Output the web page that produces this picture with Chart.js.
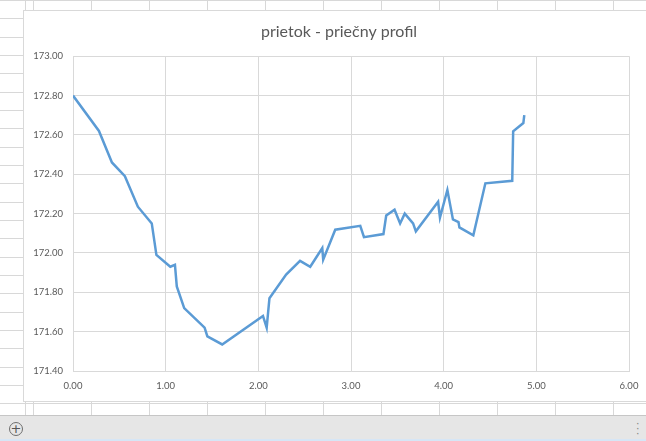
<!DOCTYPE html>
<html>
<head>
<meta charset="utf-8">
<script src="https://cdn.jsdelivr.net/npm/chart.js@4"></script>
<style>
  html, body { margin: 0; padding: 0; }
  body {
    width: 646px; height: 441px; overflow: hidden; position: relative;
    background-color: #fff;
    background-image:
      repeating-linear-gradient(to right, #d8d8d8 0 1px, transparent 1px 58px),
      repeating-linear-gradient(to bottom, #d8d8d8 0 1px, transparent 1px 18.33px);
    background-position: 33px 0, 0 0;
    font-family: Lato, "Open Sans", sans-serif;
  }
  #box {
    position: absolute; left: 23px; top: 10px; width: 632px; height: 392px;
    background: #fff; border: 1px solid #d9d9d9; box-sizing: border-box;
  }
  #bar {
    position: absolute; left: 0; top: 415px; width: 646px; height: 24px;
    background: #e6e6e6; border-top: 1px solid #c6c6c6; box-sizing: border-box;
  }
  #bar-edge { position: absolute; left: 0; top: 439px; width: 646px; height: 2px; background: #d6e6f6; }
  #plus {
    position: absolute; left: 9px; top: 422px; width: 14px; height: 14px;
    border: 1.3px solid #6e6e6e; border-radius: 50%; box-sizing: border-box;
    color: #555; font: 13px/11px "DejaVu Sans", sans-serif; text-align: center;
  }
  #dots { position: absolute; left: 636px; top: 421px; color: #888; font: 11px/5px "DejaVu Sans", sans-serif; }
</style>
</head>
<body>
<div id="box"><canvas id="profil"></canvas></div>
<div id="bar"></div>
<div id="bar-edge"></div>
<div id="plus">+</div>
<div id="dots">·<br>·<br>·</div>
<script>
// vzdialenosť [m] a výška hladiny/dna [m n.m.]
const vzdialenost = [0, 0.28, 0.42, 0.56, 0.70, 0.85, 0.90, 1.05, 1.10, 1.12, 1.20, 1.42, 1.45, 1.61,
  2.05, 2.09, 2.12, 2.30, 2.45, 2.56, 2.69, 2.70, 2.83, 3.10, 3.14, 3.35, 3.38, 3.47, 3.53, 3.58,
  3.67, 3.70, 3.94, 3.96, 4.04, 4.10, 4.16, 4.17, 4.32, 4.45, 4.74, 4.75, 4.86, 4.87];
const vyska = [172.80, 172.62, 172.46, 172.39, 172.235, 172.15, 171.99, 171.93, 171.94, 171.83, 171.72, 171.62, 171.576, 171.535,
  171.68, 171.62, 171.77, 171.89, 171.96, 171.93, 172.025, 171.966, 172.118, 172.138, 172.08, 172.096, 172.19, 172.22, 172.15, 172.20,
  172.15, 172.11, 172.26, 172.18, 172.32, 172.17, 172.157, 172.13, 172.09, 172.354, 172.367, 172.618, 172.66, 172.70];
const xTicks = [0, 1, 2, 3, 4, 5, 6];
const yTicks = [171.4, 171.6, 171.8, 172.0, 172.2, 172.4, 172.6, 172.8, 173.0];

const grid = { color: '#d9d9d9', lineWidth: 1, drawTicks: false };
const tickFont = { family: 'Lato, "Open Sans", sans-serif', size: 9.5 };

// nadpis je v Exceli vycentrovaný cez celý graf, nie len cez plochu s vynechaním pravého okraja
const posunNadpisu = {
  id: 'posunNadpisu',
  afterLayout(chart) {
    if (chart.titleBlock) chart.titleBlock.left += 25;
  }
};

new Chart(document.getElementById('profil'), {
  type: 'line',
  data: {
    datasets: [{
      data: vzdialenost.map((x, i) => ({ x: x, y: vyska[i] })),
      borderColor: '#5b9bd5',
      borderWidth: 2.5,
      pointRadius: 0,
      tension: 0,
      fill: false
    }]
  },
  options: {
    responsive: true,
    maintainAspectRatio: false,
    animation: false,
    layout: { padding: { left: 0, right: 25, top: 0, bottom: 0 } },
    plugins: {
      legend: { display: false },
      tooltip: { enabled: false },
      title: {
        display: true,
        text: 'prietok - priečny profil',
        color: '#595959',
        font: { family: 'Lato, "Open Sans", sans-serif', size: 16, weight: 'normal' },
        padding: { top: 11, bottom: 15 }
      }
    },
    scales: {
      x: {
        type: 'linear', min: 0, max: 6,
        grid: grid,
        border: { color: '#d9d9d9' },
        afterBuildTicks: s => { s.ticks = xTicks.map(v => ({ value: v })); },
        afterFit: s => { s.height = 30; },
        ticks: { color: '#595959', font: tickFont, padding: 9, maxRotation: 0, callback: v => v.toFixed(2) }
      },
      y: {
        type: 'linear', min: 171.4, max: 173,
        grid: grid,
        border: { color: '#d9d9d9' },
        afterBuildTicks: s => { s.ticks = yTicks.map(v => ({ value: v })); },
        afterFit: s => { s.width = 49; },
        ticks: { color: '#595959', font: tickFont, padding: 10, callback: v => v.toFixed(2) }
      }
    }
  },
  plugins: [posunNadpisu]
});
</script>
</body>
</html>
